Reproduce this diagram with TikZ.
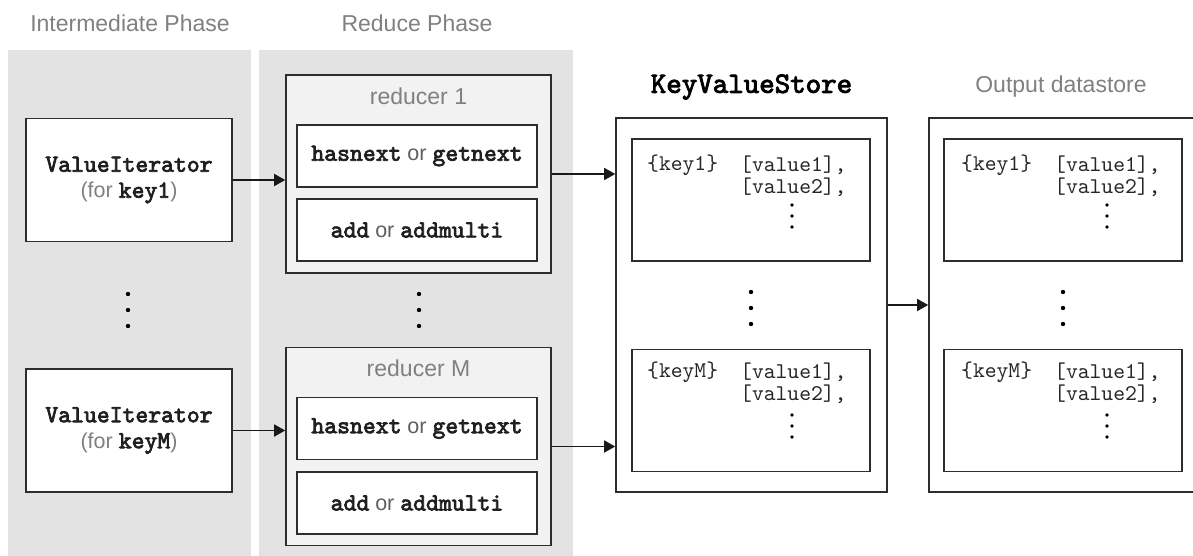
\documentclass[tikz,border=0pt]{standalone}
\usepackage{fontspec}
\setmainfont{Liberation Sans}
\setmonofont{lmmono10-regular.otf}[BoldFont=lmmono10-regular.otf, BoldFeatures={FakeBold=3}]
\usetikzlibrary{arrows.meta,positioning,calc}
\definecolor{phaseGray}{RGB}{227,227,227}
\definecolor{reducerFill}{RGB}{242,242,242}
\definecolor{lineDark}{RGB}{45,45,45}
\definecolor{labelGray}{RGB}{128,128,128}
\definecolor{orGray}{RGB}{95,95,95}
\newcommand{\kw}[1]{{\ttfamily\bfseries\fontsize{24.5}{26}\selectfont\color{black!88}#1}}
\newcommand{\orword}{{\color{orGray}\ or\ }}

\begin{document}
\begin{tikzpicture}[x=1pt,y=-1pt,
    phaselabel/.style={text=labelGray, font=\fontsize{23}{27}\selectfont, inner sep=0pt},
    box/.style={draw=lineDark, line width=1.6pt, fill=white, inner sep=0pt, align=center,
        font=\fontsize{21.5}{26}\selectfont},
    reducerbox/.style={box, fill=reducerFill, minimum width=265pt, minimum height=198pt},
    callbox/.style={box, minimum width=240pt, minimum height=62pt},
    iterbox/.style={box, minimum width=206pt, minimum height=123pt},
    storebox/.style={box, minimum width=271pt, minimum height=374pt},
    entrybox/.style={box, minimum width=238pt, minimum height=122pt},
    entry/.style={anchor=west, inner sep=0pt, text=black!85, font=\ttfamily\fontsize{22.5}{24}\selectfont},
    arr/.style={draw=black!90, line width=1.6pt, -{Triangle[length=11pt,width=12pt]}}]
    \useasboundingbox (0,0) rectangle (1193,556);

    % phase panels
    \fill[phaseGray] (8,50) rectangle (251,560);
    \fill[phaseGray] (259,50) rectangle (573,560);
    \node[phaselabel] (interlab) at (130,23) {Intermediate Phase};
    \node[phaselabel] (reducelab) at (417,23) {Reduce Phase};

    % value iterators
    \node[iterbox] (iter1) at (129,180) {\kw{ValueIterator}\\{\color{labelGray}(for }\kw{key1}{\color{labelGray})}};
    \node[iterbox] (iterM) at (129,430.5) {\kw{ValueIterator}\\{\color{labelGray}(for }\kw{keyM}{\color{labelGray})}};

    % reducers
    \node[reducerbox] (red1) at (418.5,174) {};
    \node[phaselabel] (red1lab) at ([yshift=-22pt]red1.north) {reducer 1};
    \node[callbox] (next1) at (417,156) {\kw{hasnext}\orword\kw{getnext}};
    \node[callbox] (add1) at (417,230) {\kw{add}\orword\kw{addmulti}};

    \node[reducerbox] (redM) at (418.5,446.5) {};
    \node[phaselabel] (redMlab) at ([yshift=-22pt]redM.north) {reducer M};
    \node[callbox] (nextM) at (417,428.5) {\kw{hasnext}\orword\kw{getnext}};
    \node[callbox] (addM) at (417,503) {\kw{add}\orword\kw{addmulti}};

    % KeyValueStore
    \node[storebox] (kvs) at (751.5,305) {};
    \node[font=\ttfamily\bfseries\fontsize{29.5}{30}\selectfont, inner sep=0pt] (kvslab) at (751.5,87) {KeyValueStore};
    \node[entrybox] (kvs1) at (751,200) {};
    \node[entry] (kvs1k) at (647,165) {\{key1\}};
    \node[entry] (kvs1a) at (740,165) {[value1],};
    \node[entry] (kvs1b) at (740,187) {[value2],};
    \node[entrybox] (kvsM) at (751,410.5) {};
    \node[entry] (kvsMk) at (647,372) {\{keyM\}};
    \node[entry] (kvsMa) at (740,372) {[value1],};
    \node[entry] (kvsMb) at (740,394) {[value2],};

    % output datastore
    \node[storebox] (out) at (1064.5,305) {};
    \node[phaselabel] (outlab) at (1061,87) {Output datastore};
    \node[entrybox] (out1) at (1063,200) {};
    \node[entry] (out1k) at (961,165) {\{key1\}};
    \node[entry] (out1a) at (1054,165) {[value1],};
    \node[entry] (out1b) at (1054,187) {[value2],};
    \node[entrybox] (outM) at (1063,410.5) {};
    \node[entry] (outMk) at (961,372) {\{keyM\}};
    \node[entry] (outMa) at (1054,372) {[value1],};
    \node[entry] (outMb) at (1054,394) {[value2],};

    % vertical dots
    \fill (128,294) circle (2.2pt) (128,310) circle (2.2pt) (128,326) circle (2.2pt);
    \fill (419,294) circle (2.2pt) (419,310) circle (2.2pt) (419,326) circle (2.2pt);
    \fill (751,292) circle (2.2pt) (751,308) circle (2.2pt) (751,324) circle (2.2pt);
    \fill (1063,292) circle (2.2pt) (1063,308) circle (2.2pt) (1063,324) circle (2.2pt);
    \fill (792,205) circle (1.8pt) (792,216) circle (1.8pt) (792,227) circle (1.8pt);
    \fill (792,415) circle (1.8pt) (792,426) circle (1.8pt) (792,437) circle (1.8pt);
    \fill (1107,205) circle (1.8pt) (1107,216) circle (1.8pt) (1107,227) circle (1.8pt);
    \fill (1107,415) circle (1.8pt) (1107,426) circle (1.8pt) (1107,437) circle (1.8pt);

    % connectors
    \draw[arr] (iter1.east) -- (iter1.east -| red1.west);
    \draw[arr] (iterM.east) -- (iterM.east -| redM.west);
    \draw[arr] (red1.east) -- (red1.east -| kvs.west);
    \draw[arr] (redM.east) -- (redM.east -| kvs.west);
    \draw[arr] (kvs.east) -- (kvs.east -| out.west);
\end{tikzpicture}
\end{document}
